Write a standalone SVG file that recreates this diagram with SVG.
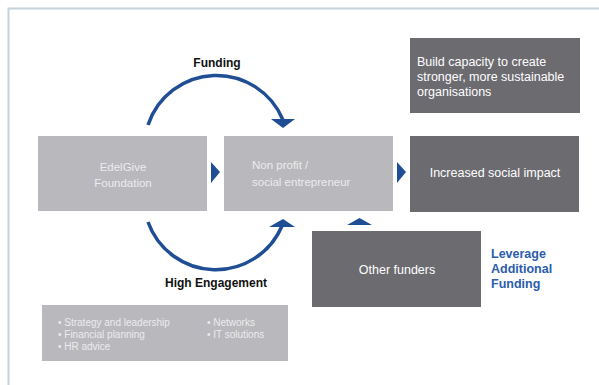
<svg xmlns="http://www.w3.org/2000/svg" width="599" height="385" viewBox="0 0 599 385">
  <style>
    text { font-family: "Liberation Sans", Arial, sans-serif; }
    .light { fill: #b9b8bc; }
    .dark { fill: #6c6b70; }
    .lt { fill: #ececee; font-size: 11.5px; }
    .wt { fill: #ffffff; font-size: 12.5px; }
    .lbl { fill: #111111; font-size: 12px; font-weight: bold; }
    .arc { fill: none; stroke: #1f4e94; stroke-width: 3.5; }
    .tri { fill: #1f4e94; }
    .blue { fill: #2b5cad; font-size: 12.5px; font-weight: bold; }
    .bul { fill: #ececee; font-size: 10px; }
  </style>

  <rect width="599" height="385" fill="#ffffff"/>
  <!-- outer frame -->
  <path d="M8.5 385 V8.5 H599" fill="none" stroke="#c6d3dc" stroke-width="2"/>

  <g id="edelgive">
    <rect class="light" x="38" y="136" width="169" height="75"/>
    <text class="lt" x="123" y="171" text-anchor="middle">EdelGive</text>
    <text class="lt" x="123" y="187" text-anchor="middle">Foundation</text>
  </g>

  <g id="nonprofit">
    <rect class="light" x="224" y="136" width="169" height="75"/>
    <text class="lt" x="252" y="169">Non profit /</text>
    <text class="lt" x="252" y="186">social entrepreneur</text>
  </g>

  <g id="impact">
    <rect class="dark" x="410" y="136" width="169" height="76"/>
    <text class="wt" x="495" y="177" text-anchor="middle">Increased social impact</text>
  </g>

  <g id="capacity">
    <rect class="dark" x="410" y="38" width="170" height="75"/>
    <text class="wt" x="417" y="66">Build capacity to create</text>
    <text class="wt" x="417" y="81">stronger, more sustainable</text>
    <text class="wt" x="417" y="96">organisations</text>
  </g>

  <g id="other-funders">
    <rect class="dark" x="312" y="231" width="169" height="76"/>
    <text class="wt" x="397" y="274" text-anchor="middle">Other funders</text>
  </g>

  <g id="services">
    <rect class="light" x="42" y="305" width="246" height="56"/>
    <text class="bul" x="58" y="326">• Strategy and leadership</text>
    <text class="bul" x="58" y="338">• Financial planning</text>
    <text class="bul" x="58" y="350">• HR advice</text>
    <text class="bul" x="207" y="326">• Networks</text>
    <text class="bul" x="207" y="338">• IT solutions</text>
  </g>

  <g id="connectors">
    <!-- Funding arc -->
    <path class="arc" d="M148 125 A72 72 0 0 1 283 120"/>
    <polygon class="tri" points="271,119 295,119 283,128"/>
    <!-- High Engagement arc -->
    <path class="arc" d="M148 222 A72 72 0 0 0 282 226"/>
    <polygon class="tri" points="269,227 295,227 283,219"/>
    <!-- flow arrows -->
    <polygon class="tri" points="211,162 220,172 211,183"/>
    <polygon class="tri" points="397,162 406,172 397,183"/>
    <!-- from other funders -->
    <polygon class="tri" points="347,225 372,225 359.5,218"/>
  </g>

  <g id="labels">
    <text class="lbl" x="217" y="67" text-anchor="middle">Funding</text>
    <text class="lbl" x="216" y="287" text-anchor="middle">High Engagement</text>
    <text class="blue" x="491" y="258">Leverage</text>
    <text class="blue" x="491" y="273">Additional</text>
    <text class="blue" x="491" y="288">Funding</text>
  </g>
</svg>
